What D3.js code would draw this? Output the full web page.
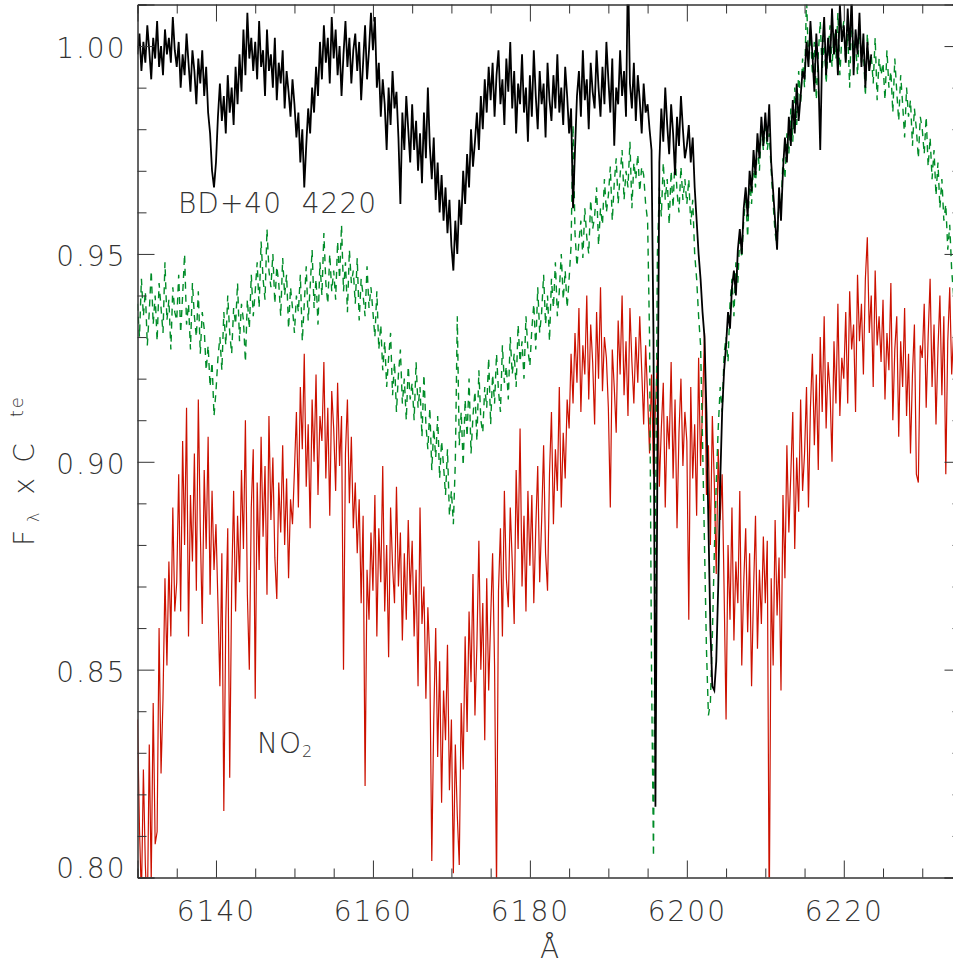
<!DOCTYPE html>
<html>
<head>
<meta charset="utf-8">
<script src="https://cdn.jsdelivr.net/npm/d3@7"></script>
<style>
  html, body { margin: 0; padding: 0; background: #fff; }
  svg { display: block; }
  text { font-family: "DejaVu Sans", sans-serif; font-weight: 200; fill: #333; }
</style>
</head>
<body>
<svg width="953" height="964"></svg>
<script>
// Wavelength grid of the spectra (Angstrom), sampled every 0.25
const waveStart = 6130;
const waveStep = 0.25;

// BD+40 4220 spectrum (black, solid)
const starFlux = [
  .998,1.003,.994,1.001,.996,1.005,.999,.992,1.002,.997,1.006,.995,1.000,.993,1.004,.998,1.002,.996,1.007,.999,
  .995,1.001,.990,.998,.993,1.003,.996,.989,.999,.994,.986,.997,.991,.999,.988,.995,.984,.979,.970,.966,
  .972,.983,.991,.982,.988,.979,.993,.984,.990,.981,.995,.986,.998,.989,1.004,.993,1.008,.997,1.002,.994,
  1.001,.992,1.006,.995,.999,.988,1.004,.994,.998,.990,1.002,.987,.996,.991,.999,.985,.994,.989,.983,.992,
  .986,.978,.984,.972,.980,.966,.976,.985,.979,.990,.984,.995,.988,1.001,.992,1.005,.996,1.002,.991,1.007,
  .997,1.004,.993,1.000,.988,.998,1.006,.995,1.002,.991,.999,1.003,.994,1.001,.987,.996,1.005,.992,.999,1.008,
  .999,1.007,.990,.996,.983,.992,.986,.975,.990,.981,.994,.985,.989,.978,.962,.984,.975,.988,.980,.972,
  .986,.975,.982,.970,.979,.967,.984,.973,.990,.976,.968,.978,.963,.972,.960,.969,.958,.966,.955,.963,
  .952,.946,.958,.950,.963,.957,.970,.962,.974,.966,.980,.971,.977,.984,.975,.988,.980,.992,.984,.995,
  .987,.996,.983,.993,.999,.986,.992,.981,.997,.989,1.001,.985,.994,.979,.991,.986,.998,.984,.990,.977,
  .993,.983,.999,.988,.980,.994,.986,.991,.978,.996,.987,.982,.993,.985,.998,.984,.990,.981,.995,.988,
  .979,.985,.961,.975,.988,.994,.983,.999,.987,.992,.980,.996,.989,.985,.999,.990,.983,.995,.986,1.001,
  .992,.984,.997,.976,.990,.986,.999,.988,.994,.983,1.020,.991,.985,.996,.982,.993,.987,.979,.991,.984,
  .986,.980,.975,.930,.817,.900,.972,.985,.977,.990,.981,.974,.986,.979,.969,.983,.976,.988,.980,.973,
  .976,.981,.972,.978,.966,.958,.950,.944,.936,.930,.912,.885,.860,.846,.845,.852,.870,.895,.912,.922,
  .928,.936,.932,.942,.946,.940,.951,.956,.950,.961,.966,.959,.970,.965,.975,.969,.979,.973,.983,.976,
  .984,.977,.986,.972,.965,.958,.951,.966,.958,.970,.978,.972,.983,.976,.987,.979,.991,.982,.988,.994,
  .992,1.001,.995,1.006,.998,.989,1.003,.994,.975,.999,1.007,.993,1.002,.996,1.009,.998,1.004,.993,1.010,1.001,
  1.005,.996,1.009,.999,1.012,.993,1.004,.998,1.008,.995,1.003,.990,1.001,.994,.998
];

// Second spectrum (green, dashed)
const refFlux = [
  .938,.930,.944,.935,.941,.928,.936,.946,.933,.940,.929,.943,.937,.931,.948,.934,.939,.927,.942,.936,
  .934,.945,.931,.940,.950,.933,.938,.927,.943,.935,.930,.941,.926,.936,.932,.922,.928,.918,.924,.911,
  .917,.925,.930,.922,.936,.928,.940,.931,.926,.937,.933,.943,.929,.938,.934,.924,.939,.932,.945,.935,
  .941,.948,.937,.953,.944,.939,.956,.946,.942,.950,.938,.947,.943,.935,.949,.940,.945,.932,.942,.937,
  .931,.940,.936,.945,.929,.938,.947,.934,.942,.951,.937,.944,.933,.948,.940,.955,.943,.938,.950,.941,
  .946,.939,.953,.944,.957,.941,.948,.936,.951,.943,.946,.938,.949,.934,.944,.940,.935,.947,.937,.942,
  .936,.930,.941,.927,.933,.922,.929,.918,.925,.931,.916,.924,.912,.921,.927,.914,.920,.910,.923,.915,
  .919,.910,.924,.913,.918,.906,.921,.909,.903,.913,.898,.908,.901,.911,.896,.905,.899,.892,.903,.887,
  .893,.885,.900,.935,.904,.912,.899,.915,.906,.920,.902,.911,.917,.905,.922,.910,.907,.918,.913,.925,
  .909,.921,.914,.926,.917,.912,.928,.919,.923,.915,.930,.921,.926,.918,.933,.924,.929,.920,.935,.927,
  .923,.932,.938,.927,.942,.931,.936,.945,.933,.940,.929,.944,.937,.948,.935,.941,.950,.939,.946,.937,
  .944,.952,.981,.955,.947,.953,.958,.949,.961,.954,.950,.963,.956,.959,.966,.952,.961,.957,.968,.960,
  .964,.971,.958,.967,.973,.962,.969,.975,.963,.970,.966,.977,.961,.972,.968,.974,.965,.971,.969,.962,
  .958,.930,.850,.805,.880,.950,.966,.959,.972,.963,.968,.957,.970,.961,.974,.965,.960,.971,.963,.968,
  .962,.968,.957,.963,.950,.944,.935,.928,.905,.880,.855,.839,.842,.858,.878,.895,.908,.918,.912,.926,
  .930,.924,.938,.944,.935,.948,.943,.955,.949,.958,.964,.954,.968,.962,.972,.966,.977,.970,.981,.975,
  .982,.975,.979,.970,.962,.955,.952,.964,.960,.973,.968,.979,.974,.985,.977,.990,.981,.994,.986,.997,
  .990,1.012,.996,1.004,.993,1.001,.987,.998,1.006,.994,1.002,.991,.999,1.005,.995,1.003,.997,1.008,.993,1.002,
  1.006,.996,1.003,.990,1.008,.998,1.001,.993,1.005,.996,.999,.988,1.003,.994,.998,.991,1.002,.987,.997,.993,
  .996,.987,.999,.990,.994,.984,.997,.989,.982,.993,.986,.978,.990,.983,.987,.976,.985,.980,.973,.983,
  .980,.974,.983,.971,.978,.968,.975,.964,.972,.961,.968,.958,.962,.951,.957,.946,.940
];

// NO2 spectrum (red, solid)
const no2Flux = [
  .838,.812,.795,.826,.803,.790,.832,.799,.842,.808,.811,.860,.825,.843,.872,.851,.876,.858,.889,.864,
  .871,.897,.864,.905,.880,.913,.858,.892,.876,.902,.869,.915,.884,.861,.898,.879,.906,.868,.893,.874,
  .885,.866,.846,.878,.816,.862,.884,.824,.870,.893,.864,.887,.871,.898,.879,.910,.868,.850,.889,.903,
  .843,.895,.874,.906,.882,.899,.868,.911,.886,.901,.877,.867,.895,.883,.904,.880,.896,.872,.891,.885,
  .898,.912,.889,.918,.903,.926,.894,.909,.884,.915,.900,.921,.892,.911,.905,.924,.896,.913,.887,.917,
  .908,.893,.919,.899,.911,.850,.902,.915,.890,.906,.884,.895,.878,.891,.866,.887,.822,.874,.862,.883,
  .869,.892,.858,.884,.871,.899,.864,.880,.853,.889,.875,.866,.894,.870,.883,.857,.878,.862,.886,.868,
  .881,.858,.874,.846,.889,.861,.870,.843,.865,.852,.804,.838,.860,.829,.852,.818,.845,.833,.856,.821,
  .838,.801,.832,.815,.803,.842,.826,.858,.835,.864,.847,.873,.839,.856,.881,.850,.866,.833,.872,.845,
  .862,.878,.851,.797,.869,.884,.858,.893,.872,.865,.889,.876,.861,.898,.879,.908,.870,.887,.864,.893,
  .875,.892,.866,.884,.899,.871,.886,.904,.878,.869,.897,.912,.885,.903,.893,.918,.889,.907,.896,.915,
  .908,.926,.914,.931,.919,.937,.912,.928,.921,.940,.915,.933,.924,.909,.936,.920,.942,.917,.930,.925,
  .913,.889,.927,.918,.907,.934,.921,.940,.916,.929,.911,.937,.924,.914,.930,.919,.935,.922,.909,.928,
  .916,.902,.921,.897,.913,.925,.894,.908,.919,.889,.911,.903,.924,.896,.915,.884,.907,.920,.899,.912,
  .905,.862,.918,.896,.909,.887,.925,.899,.913,.931,.892,.904,.880,.911,.895,.873,.903,.886,.897,.869,
  .838,.880,.862,.889,.857,.876,.866,.893,.851,.871,.884,.859,.878,.846,.869,.887,.855,.874,.861,.882,
  .866,.881,.790,.872,.851,.886,.863,.877,.845,.892,.872,.904,.883,.897,.912,.879,.901,.888,.915,.893,
  .902,.918,.889,.913,.926,.904,.921,.898,.930,.912,.935,.908,.924,.917,.900,.929,.914,.938,.911,.925,
  .920,.936,.914,.941,.927,.933,.912,.945,.929,.938,.921,.944,.954,.931,.940,.918,.946,.928,.935,.924,
  .939,.915,.931,.922,.943,.910,.927,.935,.906,.929,.918,.937,.911,.926,.902,.921,.933,.897,.895,.928,
  .925,.938,.913,.930,.944,.918,.933,.909,.927,.940,.916,.935,.897,.929,.942,.921,.931
];

// Axis ticks
const xMajorTicks = [6140, 6160, 6180, 6200, 6220];
const xMinorTicks = [6135, 6145, 6150, 6155, 6165, 6170, 6175, 6185, 6190, 6195, 6205, 6210, 6215, 6225, 6230];
const yMajorTicks = [0.80, 0.85, 0.90, 0.95, 1.00];
const yMinorTicks = [0.81, 0.82, 0.83, 0.84, 0.86, 0.87, 0.88, 0.89, 0.91, 0.92, 0.93, 0.94, 0.96, 0.97, 0.98, 0.99, 1.01];

const svg = d3.select("svg");
const plotLeft = 137.5, plotRight = 961.5, plotTop = 4.5, plotBottom = 877.5;
const axisColor = "#333";

const x = d3.scaleLinear().domain([6130, 6235]).range([plotLeft, plotRight]);
const y = d3.scaleLinear().domain([0.80, 1.01]).range([plotBottom, plotTop]);

svg.append("clipPath").attr("id", "plot")
  .append("rect")
  .attr("x", plotLeft).attr("y", plotTop)
  .attr("width", plotRight - plotLeft).attr("height", plotBottom - plotTop);

const toPoints = flux => flux.map((f, i) => [waveStart + i * waveStep, f]);
const line = d3.line().x(d => x(d[0])).y(d => y(d[1]));

const spectra = svg.append("g").attr("clip-path", "url(#plot)");

spectra.append("path")
  .attr("d", line(toPoints(no2Flux)))
  .attr("fill", "none")
  .attr("stroke", "#cc1100")
  .attr("stroke-width", 1.2);

spectra.append("path")
  .attr("d", line(toPoints(refFlux)))
  .attr("fill", "none")
  .attr("stroke", "#008c28")
  .attr("stroke-width", 1.4)
  .attr("stroke-dasharray", "7,6");

spectra.append("path")
  .attr("d", line(toPoints(starFlux)))
  .attr("fill", "none")
  .attr("stroke", "#000")
  .attr("stroke-width", 1.8);

// Axes: ticks point inward on all four sides
function styleAxis(g) {
  g.select(".domain").attr("stroke", axisColor);
  g.selectAll(".tick line").attr("stroke", axisColor);
  g.selectAll("text").attr("font-size", 28).attr("fill", "#333")
    .attr("letter-spacing", 2)
    .style("font-family", "'DejaVu Sans', sans-serif").style("font-weight", 200);
}

const fmtX = d3.format("d");
const fmtY = d3.format(".2f");

// bottom
svg.append("g").attr("transform", `translate(0,${plotBottom})`)
  .call(d3.axisBottom(x).tickValues(xMajorTicks).tickSize(-17).tickPadding(24).tickFormat(fmtX))
  .call(styleAxis);
svg.append("g").attr("transform", `translate(0,${plotBottom})`)
  .call(d3.axisBottom(x).tickValues(xMinorTicks).tickSize(-9).tickFormat(""))
  .call(styleAxis);

// top
svg.append("g").attr("transform", `translate(0,${plotTop})`)
  .call(d3.axisTop(x).tickValues(xMajorTicks).tickSize(-17).tickFormat(""))
  .call(styleAxis);
svg.append("g").attr("transform", `translate(0,${plotTop})`)
  .call(d3.axisTop(x).tickValues(xMinorTicks).tickSize(-9).tickFormat(""))
  .call(styleAxis);

// left
const yAxisG = svg.append("g").attr("transform", `translate(${plotLeft},0)`)
  .call(d3.axisLeft(y).tickValues(yMajorTicks).tickSize(-17).tickPadding(11).tickFormat(fmtY))
  .call(styleAxis);
yAxisG.selectAll(".tick text").attr("dy", d => d === 0.80 ? "0" : "0.42em");
svg.append("g").attr("transform", `translate(${plotLeft},0)`)
  .call(d3.axisLeft(y).tickValues(yMinorTicks).tickSize(-9).tickFormat(""))
  .call(styleAxis);

// right
svg.append("g").attr("transform", `translate(${plotRight},0)`)
  .call(d3.axisRight(y).tickValues(yMajorTicks).tickSize(-17).tickFormat(""))
  .call(styleAxis);
svg.append("g").attr("transform", `translate(${plotRight},0)`)
  .call(d3.axisRight(y).tickValues(yMinorTicks).tickSize(-9).tickFormat(""))
  .call(styleAxis);

// axis titles
svg.append("text")
  .attr("x", (plotLeft + plotRight) / 2).attr("y", 958)
  .attr("text-anchor", "middle").attr("font-size", 28)
  .text("Å");

const yTitle = svg.append("text")
  .attr("transform", "translate(34,546) rotate(-90)")
  .attr("font-size", 28);
yTitle.append("tspan").text("F");
yTitle.append("tspan").attr("font-size", 16).attr("dx", 8).attr("dy", 5).text("λ");
yTitle.append("tspan").attr("dx", 18).attr("dy", -5).text("x");
yTitle.append("tspan").attr("dx", 15).text("C");
yTitle.append("tspan").attr("font-size", 18).attr("letter-spacing", 2)
  .attr("dx", 26).attr("dy", -11).text("te");

// annotations
svg.append("text")
  .attr("x", 178).attr("y", 213).attr("font-size", 28)
  .attr("letter-spacing", 1)
  .style("white-space", "pre")
  .text("BD+40  4220");

const no2 = svg.append("text").attr("x", 257).attr("y", 753).attr("font-size", 28)
  .attr("letter-spacing", 1);
no2.append("tspan").text("NO");
no2.append("tspan").attr("font-size", 16).attr("dy", 4).text("2");
</script>
</body>
</html>
